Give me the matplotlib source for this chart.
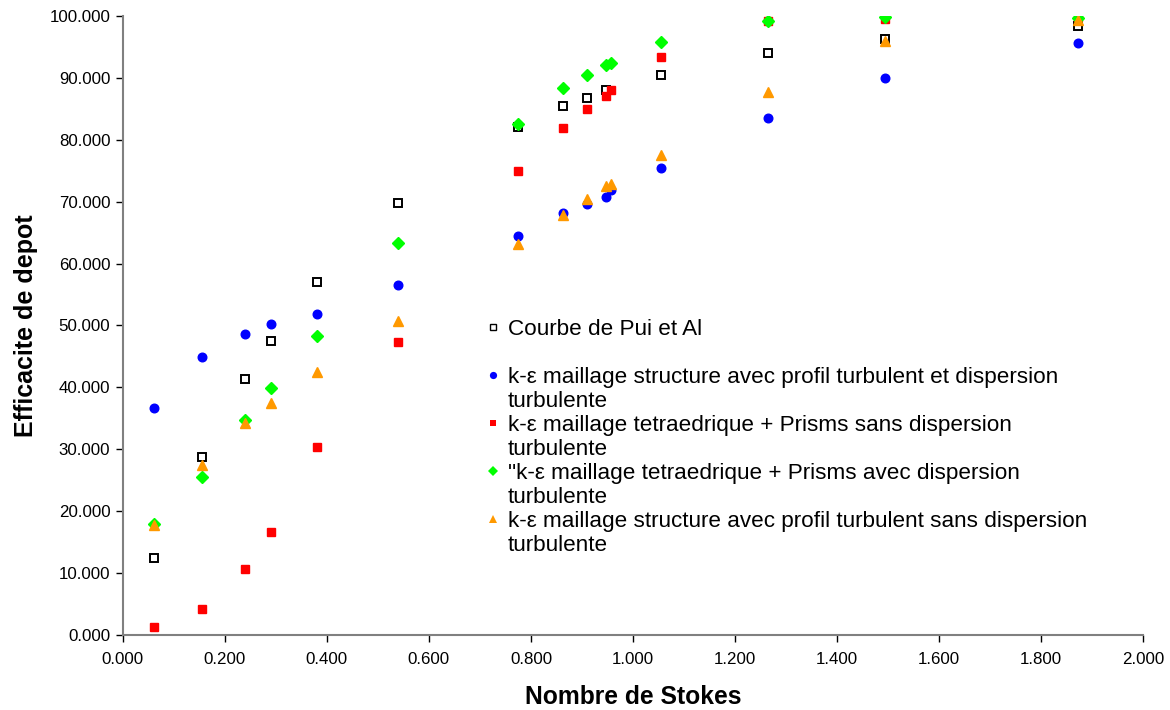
import matplotlib
matplotlib.use("Agg")
import matplotlib.pyplot as plt
from matplotlib.lines import Line2D
from matplotlib.ticker import MultipleLocator, FormatStrFormatter

plt.rcParams['font.family'] = ['Liberation Sans', 'DejaVu Sans']

# Stokes numbers
x_pui = [0.061, 0.155, 0.240, 0.290, 0.380, 0.539, 0.775, 0.863, 0.909, 0.947, 1.054, 1.265, 1.494, 1.873]
y_pui = [12.4, 28.8, 41.3, 47.5, 57.0, 69.8, 82.1, 85.4, 86.8, 88.0, 90.4, 94.0, 96.3, 98.3]

x_sim = [0.061, 0.155, 0.240, 0.290, 0.380, 0.539, 0.775, 0.863, 0.909, 0.947, 0.957, 1.054, 1.265, 1.494, 1.873]
y_blue = [36.7, 44.9, 48.7, 50.3, 51.9, 56.6, 64.5, 68.2, 69.6, 70.7, 71.8, 75.4, 83.5, 89.9, 95.6]
y_red = [1.35, 4.25, 10.7, 16.6, 30.4, 47.4, 74.9, 81.9, 84.9, 87.1, 88.0, 93.3, 99.1, 99.5, 99.8]
y_green = [18.0, 25.6, 34.7, 39.9, 48.3, 63.4, 82.6, 88.3, 90.5, 92.1, 92.4, 95.8, 99.1, 99.8, 99.7]
y_orange = [17.8, 27.4, 34.2, 37.4, 42.5, 50.8, 63.2, 67.9, 70.5, 72.5, 72.8, 77.6, 87.7, 96.0, 99.3]

labels = [
    "Courbe de Pui et Al",
    "k-ε maillage structure avec profil turbulent et dispersion",
    "k-ε maillage tetraedrique + Prisms sans dispersion",
    "\"k-ε maillage tetraedrique + Prisms avec dispersion",
    "k-ε maillage structure avec profil turbulent sans dispersion",
]
second_line = "turbulente"

fig = plt.figure(figsize=(11.7, 7.1), dpi=100)
ax = fig.add_axes([0.105, 0.1056, 0.872, 0.872])

ax.plot(x_pui, y_pui, linestyle='none', marker='s', markersize=6, markerfacecolor='white',
        markeredgecolor='black', markeredgewidth=1.4, zorder=3)
ax.plot(x_sim, y_blue, linestyle='none', marker='o', markersize=6.2, color='#0000FF', zorder=4)
ax.plot(x_sim, y_red, linestyle='none', marker='s', markersize=6, color='#FF0000', zorder=5)
ax.plot(x_sim, y_green, linestyle='none', marker='D', markersize=5.8, color='#00FF00', zorder=6)
ax.plot(x_sim, y_orange, linestyle='none', marker='^', markersize=7.5, color='#FF9900', zorder=7)

ax.set_xlim(0, 2.0)
ax.set_ylim(0, 100)
ax.xaxis.set_major_locator(MultipleLocator(0.2))
ax.yaxis.set_major_locator(MultipleLocator(10))
ax.xaxis.set_major_formatter(FormatStrFormatter('%.3f'))
ax.yaxis.set_major_formatter(FormatStrFormatter('%.3f'))
ax.tick_params(axis='both', direction='out', length=5, width=1, labelsize=12.2, color='black')
ax.tick_params(axis='x', pad=7)
ax.tick_params(axis='y', pad=4)

for s in ['top', 'right']:
    ax.spines[s].set_visible(False)
for s in ['left', 'bottom']:
    ax.spines[s].set_color('#808080')
    ax.spines[s].set_linewidth(1.5)

ax.set_xlabel("Nombre de Stokes", fontsize=17.7, fontweight='bold', labelpad=13)
ax.set_ylabel("Efficacite de depot", fontsize=18, fontweight='bold', labelpad=8)

# Legend (Excel-style, markers aligned with first line)
def mk(marker, fc, ec, ms, mew=0):
    return Line2D([], [], linestyle='none', marker=marker, markersize=ms,
                  markerfacecolor=fc, markeredgecolor=ec, markeredgewidth=mew)
blank = Line2D([], [], linestyle='none', marker=None)
handles = [
    mk('s', 'white', 'black', 5, 1.0), blank,
    mk('o', '#0000FF', '#0000FF', 5.2), blank,
    mk('s', '#FF0000', '#FF0000', 5), blank,
    mk('D', '#00FF00', '#00FF00', 4.6), blank,
    mk('^', '#FF9900', '#FF9900', 5.8), blank,
]
leg_labels = [labels[0], " ",
              labels[1], second_line,
              labels[2], second_line,
              labels[3], second_line,
              labels[4], second_line]
leg = fig.legend(handles, leg_labels, loc='upper left', bbox_to_anchor=(0.416, 0.551),
                 frameon=False, fontsize=16.2, handlelength=0.6, handletextpad=0.35,
                 labelspacing=0.135, borderpad=0, borderaxespad=0)

fig.savefig("out.png", dpi=100)
